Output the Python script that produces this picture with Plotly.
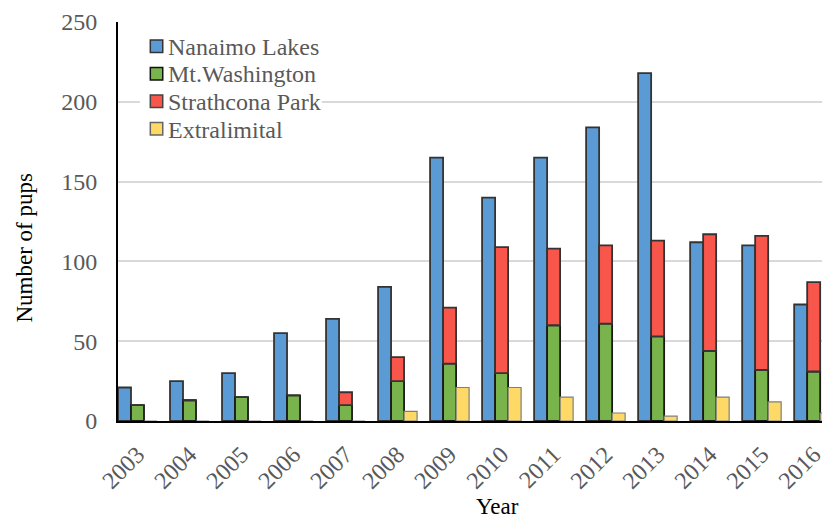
import plotly.graph_objects as go

# Pup counts by year and population
years = ["2003", "2004", "2005", "2006", "2007", "2008", "2009",
         "2010", "2011", "2012", "2013", "2014", "2015", "2016"]
nanaimo_lakes = [21, 25, 30, 55, 64, 84, 165, 140, 165, 184, 218, 112, 110, 73]
mt_washington = [10, 13, 15, 16, 10, 25, 36, 30, 60, 61, 53, 44, 32, 31]
strathcona_park = [0, 0, 0, 0, 8, 15, 35, 79, 48, 49, 60, 73, 84, 56]
extralimital = [0, 0, 0, 0, 0, 6, 21, 21, 15, 5, 3, 15, 12, 5]

series_names = ["Nanaimo Lakes", "Mt.Washington", "Strathcona Park", "Extralimital"]
series_colors = ["#5B9BD5", "#78B44B", "#F8564B", "#FFD966"]
y_ticks = [0, 50, 100, 150, 200, 250]

SERIF = "Liberation Serif"
EDGE = "#333333"
BAR_W = 0.25

# plot-area geometry in pixels (used for placing the key and titles)
W, H = 826, 523
L, T, B = 118, 22, 102
PW, PH = W - L, H - T - B


def px_x(px):
    return (px - L) / PW


def px_y(py):
    return (H - B - py) / PH


fig = go.Figure()

fig.add_trace(go.Bar(
    name=series_names[0], x=years, y=nanaimo_lakes,
    width=BAR_W, offset=-0.375,
    marker=dict(color=series_colors[0], line=dict(color=EDGE, width=1.8)),
))
fig.add_trace(go.Bar(
    name=series_names[1], x=years, y=mt_washington,
    width=BAR_W, offset=-0.125,
    marker=dict(color=series_colors[1], line=dict(color="#1a1a1a", width=1.8)),
))
# Strathcona Park stacked on top of Mt.Washington
fig.add_trace(go.Bar(
    name=series_names[2], x=years, y=strathcona_park, base=mt_washington,
    width=BAR_W, offset=-0.125,
    marker=dict(color=series_colors[2], line=dict(color=EDGE, width=1.8)),
))
fig.add_trace(go.Bar(
    name=series_names[3], x=years, y=extralimital,
    width=BAR_W, offset=0.125,
    marker=dict(color=series_colors[3], line=dict(color="#7f7f7f", width=1.2)),
))

# Key in the upper-left corner: white panel, swatches and labels
shapes = [dict(
    type="rect", xref="paper", yref="paper", layer="above",
    x0=px_x(140), x1=px_x(323), y0=px_y(142), y1=px_y(31),
    fillcolor="white", line=dict(width=0),
)]
annotations = []
row_y = [46, 73.5, 101, 128.5]
swatch_edges = ["#333333", "#111111", "#444444", "#666666"]
for name, color, edge, ry in zip(series_names, series_colors, swatch_edges, row_y):
    shapes.append(dict(
        type="rect", xref="paper", yref="paper", layer="above",
        x0=px_x(150.5), x1=px_x(163), y0=px_y(ry + 6.5), y1=px_y(ry - 6),
        fillcolor=color, line=dict(color=edge, width=1.5),
    ))
    annotations.append(dict(
        text=name, xref="paper", yref="paper",
        x=px_x(166), y=px_y(ry + 1), xanchor="left", yanchor="middle",
        showarrow=False, font=dict(family=SERIF, size=24, color="#595959"),
    ))

# Axis titles
annotations.append(dict(
    text="Number of pups", xref="paper", yref="paper",
    x=px_x(23), y=px_y(248), xanchor="center", yanchor="middle",
    textangle=-90, showarrow=False,
    font=dict(family=SERIF, size=23, color="black"),
))
annotations.append(dict(
    text="Year", xref="paper", yref="paper",
    x=px_x(500), y=px_y(506), xanchor="center", yanchor="middle",
    showarrow=False, font=dict(family=SERIF, size=23, color="black"),
))

fig.update_layout(
    width=W, height=H,
    margin=dict(l=L, r=0, t=T, b=B),
    barmode="overlay",
    plot_bgcolor="white", paper_bgcolor="white",
    font=dict(family=SERIF, size=23, color="#595959"),
    showlegend=False,
    shapes=shapes,
    annotations=annotations,
    xaxis=dict(
        type="category",
        range=[-0.375, 13.16],
        showline=True, linecolor="black", linewidth=2,
        showgrid=False, ticks="", tickangle=-45, ticklabelstandoff=8,
        tickfont=dict(family=SERIF, size=24, color="#595959"),
    ),
    yaxis=dict(
        range=[0, 250], tickvals=y_ticks,
        showline=True, linecolor="black", linewidth=2,
        showgrid=True, gridcolor="#d9d9d9", gridwidth=1.5,
        zeroline=False, ticks="", ticklabelstandoff=14,
        tickfont=dict(family=SERIF, size=24, color="#595959"),
    ),
)

fig.write_html("out.html")
